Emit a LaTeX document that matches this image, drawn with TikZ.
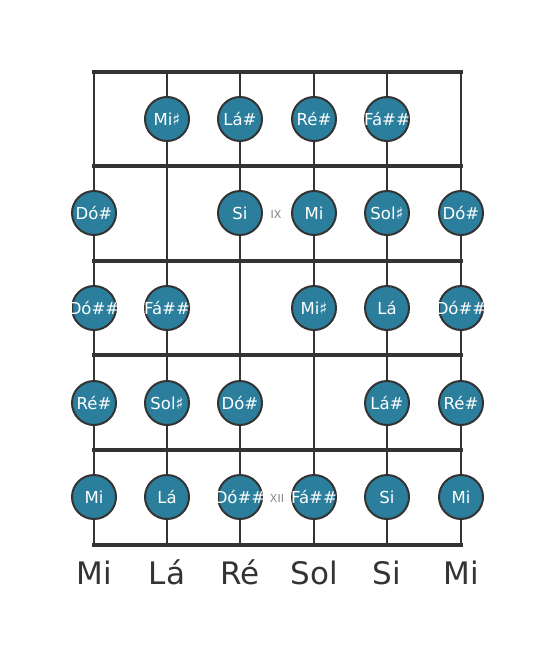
\documentclass[tikz,border=0pt]{standalone}
\usepackage{fontspec}
\setmainfont{DejaVu Sans}
\definecolor{fretline}{HTML}{333333}
\definecolor{notefill}{HTML}{2B7F9C}
\begin{document}
\begin{tikzpicture}[x=1pt,y=-1pt,
    note/.style={circle,draw=fretline,line width=2pt,fill=notefill,minimum size=44pt,inner sep=0pt,text=white,
        font=\fontsize{16.5}{16.5}\selectfont,
        execute at begin node={\hbox to 0pt\bgroup\hss},execute at end node={\hss\egroup}},
    fretnum/.style={text=fretline!60,font=\fontsize{11}{11}\selectfont},
    tuning/.style={text=fretline,anchor=base,font=\fontsize{31}{31}\selectfont}]
    \useasboundingbox (0,0) rectangle (555,656);
    % strings
    \foreach \x in {94,167,240,314,387,461}
        \draw[fretline,line width=2.5pt] (\x,72) -- (\x,545);
    % frets
    \foreach \y in {72,166,261,355,450,545}
        \draw[fretline,line width=4pt,line cap=rect] (94,\y) -- (461,\y);

    % fret 1
    \node[note] (r1s2) at (167,119) {Mi♯};
    \node[note] (r1s3) at (240,119) {Lá\#};
    \node[note] (r1s4) at (314,119) {Ré\#};
    \node[note] (r1s5) at (387,119) {Fá\#\#};
    % fret 2
    \node[note] (r2s1) at (94,213) {Dó\#};
    \node[note] (r2s3) at (240,213) {Si};
    \node[note] (r2s4) at (314,213) {Mi};
    \node[note] (r2s5) at (387,213) {Sol♯};
    \node[note] (r2s6) at (461,213) {Dó\#};
    \node[fretnum] (ix) at (276,214) {IX};
    % fret 3
    \node[note] (r3s1) at (94,308) {Dó\#\#};
    \node[note] (r3s2) at (167,308) {Fá\#\#};
    \node[note] (r3s4) at (314,308) {Mi♯};
    \node[note] (r3s5) at (387,308) {Lá};
    \node[note] (r3s6) at (461,308) {Dó\#\#};
    % fret 4
    \node[note] (r4s1) at (94,403) {Ré\#};
    \node[note] (r4s2) at (167,403) {Sol♯};
    \node[note] (r4s3) at (240,403) {Dó\#};
    \node[note] (r4s5) at (387,403) {Lá\#};
    \node[note] (r4s6) at (461,403) {Ré\#};
    % fret 5
    \node[note] (r5s1) at (94,497) {Mi};
    \node[note] (r5s2) at (167,497) {Lá};
    \node[note] (r5s3) at (240,497) {Dó\#\#};
    \node[note] (r5s4) at (314,497) {Fá\#\#};
    \node[note] (r5s5) at (387,497) {Si};
    \node[note] (r5s6) at (461,497) {Mi};
    \node[fretnum] (xii) at (277,498) {XII};

    % tuning
    \node[tuning] (t1) at (94,584) {Mi};
    \node[tuning] (t2) at (167,584) {Lá};
    \node[tuning] (t3) at (240,584) {Ré};
    \node[tuning] (t4) at (314,584) {Sol};
    \node[tuning] (t5) at (387,584) {Si};
    \node[tuning] (t6) at (461,584) {Mi};
\end{tikzpicture}
\end{document}
